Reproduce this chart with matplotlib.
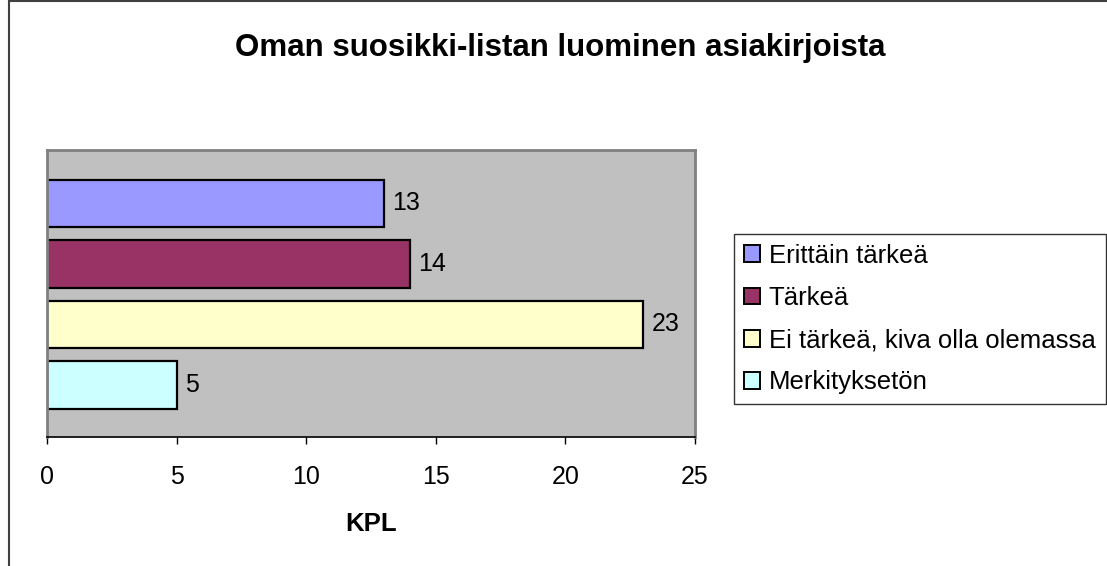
import matplotlib
matplotlib.use("Agg")
import matplotlib.pyplot as plt
from matplotlib.patches import Patch, Rectangle

plt.rcParams['font.family'] = ['Liberation Sans', 'DejaVu Sans']

# data
labels = ["Erittäin tärkeä", "Tärkeä", "Ei tärkeä, kiva olla olemassa", "Merkityksetön"]
values = [13, 14, 23, 5]
colors = ["#9999FF", "#993366", "#FFFFCC", "#CCFFFF"]
title = "Oman suosikki-listan luominen asiakirjoista"
xlabel = "KPL"
xticks = [0, 5, 10, 15, 20, 25]

W, H = 1107, 566
fig = plt.figure(figsize=(W / 100, H / 100), dpi=100)

# outer chart border (right/bottom run off the image)
fig.patches.append(Rectangle((9 / W, -0.05), 1.2, 1 - 1.5 / H + 0.05,
                             transform=fig.transFigure, fill=False,
                             edgecolor="#404040", linewidth=1.5))

ax = fig.add_axes([47 / W, 129 / H, 648 / W, 287 / H])
ax.set_facecolor("#C0C0C0")

pos = list(range(len(values)))[::-1]
ax.barh(pos, values, height=0.78, color=colors, edgecolor="black", linewidth=1.6)
for p, v in zip(pos, values):
    ax.text(v + 0.33, p, str(v), va="center", ha="left", fontsize=18)

ax.set_xlim(0, 25)
ax.set_ylim(-0.86, 3.884)
ax.set_xticks(xticks)
ax.set_yticks([])
ax.tick_params(axis="x", length=5, width=1, pad=15, labelsize=18, direction="out")
for s in ["top", "left", "right"]:
    ax.spines[s].set_color("#808080")
    ax.spines[s].set_linewidth(2)
ax.spines["bottom"].set_color("black")
ax.spines["bottom"].set_linewidth(1.2)
ax.set_xlabel(xlabel, fontsize=18.5, fontweight="bold", labelpad=17)

fig.text(560 / W, 1 - 48 / H, title, ha="center", va="center",
         fontsize=22.5, fontweight="bold")

handles = [Patch(facecolor=c, edgecolor="black", linewidth=1.4) for c in colors]
leg = fig.legend(handles, labels, loc="upper left",
                 bbox_to_anchor=(734 / W, 1 - 234 / H - 0.01, 372 / W, 0.01),
                 mode="expand", fontsize=18.5, frameon=True, fancybox=False,
                 handlelength=0.62, handleheight=0.62, handletextpad=0.35,
                 labelspacing=0.71, borderpad=0.38, borderaxespad=0)
leg.get_frame().set_edgecolor("black")
leg.get_frame().set_linewidth(1)

fig.savefig("out.png", dpi=100)
